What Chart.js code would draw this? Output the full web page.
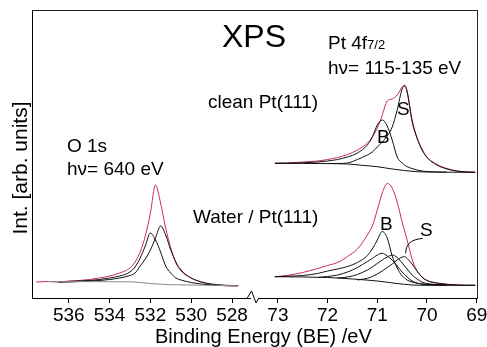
<!DOCTYPE html>
<html><head><meta charset="utf-8">
<script src="https://cdn.jsdelivr.net/npm/chart.js@4/dist/chart.umd.min.js"></script>
<style>
html,body{margin:0;padding:0;background:#fff;}
#wrap{position:relative;width:487px;height:347px;overflow:hidden;font-family:"Liberation Sans",Arial,sans-serif;color:#000;}
canvas{position:absolute;top:0;}
#cL{left:0;}
#cR{left:258px;}
.t{position:absolute;white-space:nowrap;line-height:1;font-size:19px;}
#frame{position:absolute;left:32px;top:10px;width:445px;height:288px;border-top:1px solid #222;border-right:1px solid #222;box-sizing:content-box;}
svg{position:absolute;left:0;top:0;}
</style></head><body>
<div id="wrap">
<div id="frame"></div>
<canvas id="cL" width="251" height="347"></canvas>
<canvas id="cR" width="231" height="347"></canvas>
<svg width="487" height="347"><polyline points="247,298.5 251.5,291 256,303 258.5,298.5" fill="none" stroke="#000" stroke-width="1"/></svg>
<div class="t" style="left:222px;top:20px;font-size:32px;">XPS</div>
<div class="t" style="left:328px;top:33px;">Pt 4f<span style="font-size:13px;">7/2</span></div>
<div class="t" style="left:328px;top:58px;">hν= 115-135 eV</div>
<div class="t" style="left:208px;top:92px;">clean Pt(111)</div>
<div class="t" style="left:67px;top:136px;">O 1s</div>
<div class="t" style="left:67px;top:159px;">hν= 640 eV</div>
<div class="t" style="left:193px;top:207px;">Water / Pt(111)</div>
<div class="t" style="left:377px;top:127px;">B</div>
<div class="t" style="left:397px;top:99px;">S</div>
<div class="t" style="left:380px;top:214px;">B</div>
<div class="t" style="left:420px;top:220px;">S</div>
<div class="t" style="left:155px;top:326px;font-size:20px;">Binding Energy (BE) /eV</div>
<div class="t" style="left:19px;top:168px;font-size:21px;transform:translate(-50%,-50%) rotate(-90deg);">Int. [arb. units]</div>
</div>
<script>
// ---- O 1s region ----
const oTicks = [536, 534, 532, 530, 528];
const oBE = [537.6, 537.0, 536.5, 536.0, 535.5, 535.0, 534.5, 534.0, 533.5, 533.0, 532.75, 532.5, 532.25, 532.0, 531.75, 531.5, 531.25, 531.0, 530.75, 530.5, 530.0, 529.5, 529.0, 528.5, 528.0, 527.7];
const oTotal = [16, 16.5, 16, 17, 17.5, 18.5, 20, 22, 25, 30, 36, 46, 62, 85, 113, 95, 70, 50, 35, 27, 20, 16, 13.5, 12.5, 12, 12];
const oComp1 = [null, null, 16, 16.5, 17, 17.5, 18.5, 20, 22, 26, 31, 40, 52, 65, 58, 46, 32, 25, 20, 18, 15.5, 14, 13, 12.5, 12.3, 12.3];
const oComp2 = [null, null, 16, 16, 16.5, 17, 17.5, 18.5, 20, 22.5, 25, 32, 39, 48, 60, 72, 63, 48, 36, 28, 20, 16, 14, 13, 12.5, 12.5];
const oBgBE = [537.0, 533.0, 532.5, 532.0, 531.5, 531.0, 530.0, 529.0, 528.0, 527.7];
const oBg = [16.4, 16.2, 15.5, 14.5, 13.8, 13.3, 13.0, 12.7, 12.4, 12.3];

// ---- Pt 4f7/2 region ----
const ptTicks = [73, 72, 71, 70, 69];
const ptBE = [73.06, 72.8, 72.5, 72.2, 72.0, 71.8, 71.6, 71.4, 71.2, 71.1, 71.0, 70.9, 70.8, 70.7, 70.6, 70.5, 70.45, 70.4, 70.3, 70.2, 70.1, 70.0, 69.8, 69.6, 69.4, 69.2, 69.03];
// clean Pt(111)
const cleanTotal = [134.7, 135, 136, 137, 138.5, 140.5, 143.5, 148, 155, 161, 170, 183, 197, 199, 203, 211, 213, 207, 176, 160, 149, 141, 133.5, 129.5, 127, 126, 125.7];
const cleanB = [134.7, 134.8, 135.2, 136, 137, 138.5, 141, 145, 153, 161, 173, 178, 172, 158, 141, 135, 133, 131.3, 129.5, 128, 127, 126.5, 126, 125.8, null, null, null];
const cleanS = [null, null, null, null, 134.5, 134.5, 135, 138.5, 143, 146, 151, 156, 162, 171, 188, 209, 212, 206, 178, 160, 148, 140.5, 133, 129, 127, 126, 125.7];
const cleanBgBE = [73.06, 72.0, 71.6, 71.3, 71.0, 70.7, 70.2, 70.0, 69.03];
const cleanBg = [134.7, 134.4, 134, 132.7, 131.3, 129, 126.3, 126, 125.7];
// Water / Pt(111)
const waterTotal = [21.3, 22.7, 25.5, 29.5, 32.5, 35.5, 41.5, 49, 63, 72, 88, 105, 114.5, 110, 96, 76, 67, 58, 39, 27, 21, 17.5, 15, 13.7, 13, 12.7, 12.7];
const waterB = [21.3, 21.8, 22.5, 24.5, 27, 29, 31.5, 35.5, 42.5, 49, 58, 66.5, 60, 42, 30, 22, 20, 18, 16, 14.7, 14, 13.5, 13.2, 13, null, null, null];
const waterB2 = [null, null, null, 20.5, 21.5, 23, 26, 30.5, 36.5, 39.5, 43, 44.7, 42, 38, 32, 26, 23.5, 21, 17, 15, 14, 13.5, 13, 12.8, null, null, null];
const waterS1 = [null, null, null, null, null, 20, 21, 23.5, 28, 31, 34.5, 38, 41, 43, 40.5, 35, 32, 29, 23, 19, 16, 14.5, 13.5, 13, null, null, null];
const waterS2 = [null, null, null, null, null, null, null, 18, 19.7, 21.5, 24, 27, 30.5, 34, 38, 41, 41.3, 39.5, 34, 27, 21, 17.5, 15, 13.7, 13, 12.7, 12.7];
const waterBgBE = [73.06, 72.0, 71.5, 71.0, 70.6, 70.3, 70.0, 69.03];
const waterBg = [21.3, 20.5, 19, 17, 14.5, 13, 12.7, 12.7];

const FONT = '"Liberation Sans", Arial, sans-serif';
const RED = '#c8304e', BLK = '#111', GRY = '#8a8a8a';

function pts(xs, ys) { const a = []; xs.forEach((x, i) => { if (ys[i] !== null) a.push({x: x, y: ys[i]}); }); return a; }
function ds(xs, ys, color, w) {
  return {data: pts(xs, ys), borderColor: color, borderWidth: w || 1, pointRadius: 0, fill: false, cubicInterpolationMode: 'monotone'};
}
function opts(xmin, xmax, ticks, showY, padRight) {
  const y = {min: 0, max: 288, display: showY,
    grid: {display: true, drawOnChartArea: false, drawTicks: false},
    ticks: {display: false},
    border: {display: true, color: '#000', width: 1}
  };
  if (showY) y.afterFit = s => { s.width = 32; };
  return {
    responsive: false, animation: false, devicePixelRatio: 1,
    layout: {padding: {top: 10, right: padRight, bottom: 0, left: 0}},
    plugins: {legend: {display: false}, tooltip: {enabled: false}},
    scales: {
      x: {type: 'linear', reverse: true, min: xmin, max: xmax,
        afterBuildTicks: s => { s.ticks = ticks.map(v => ({value: v})); },
        afterFit: s => { s.height = 49; },
        grid: {display: true, drawOnChartArea: false, drawTicks: true, tickLength: 5, color: '#000', lineWidth: 1},
        border: {display: true, color: '#000', width: 1},
        ticks: {font: {family: FONT, size: 19}, color: '#000', padding: 1, maxRotation: 0, minRotation: 0, autoSkip: false}
      },
      y: y
    }
  };
}

new Chart(document.getElementById('cL'), {
  type: 'line',
  data: {datasets: [
    ds(oBgBE, oBg, GRY),
    ds(oBE, oComp1, BLK),
    ds(oBE, oComp2, BLK),
    ds(oBE, oTotal, RED)
  ]},
  options: opts(527.07, 537.8, oTicks, true, 0)
});

const arrowPlugin = {
  id: 'sArrow',
  afterDatasetsDraw(chart) {
    const x = chart.scales.x, y = chart.scales.y, ctx = chart.ctx;
    ctx.save();
    ctx.strokeStyle = '#000'; ctx.lineWidth = 1;
    ctx.beginPath();
    ctx.moveTo(x.getPixelForValue(70.09), y.getPixelForValue(59.7));
    ctx.bezierCurveTo(x.getPixelForValue(70.36), y.getPixelForValue(58), x.getPixelForValue(70.42), y.getPixelForValue(53), x.getPixelForValue(70.43), y.getPixelForValue(44.7));
    ctx.stroke();
    ctx.restore();
  }
};

new Chart(document.getElementById('cR'), {
  type: 'line',
  data: {datasets: [
    ds(cleanBgBE, cleanBg, BLK),
    ds(ptBE, cleanB, BLK),
    ds(ptBE, cleanS, BLK),
    ds(ptBE, cleanTotal, RED),
    ds(waterBgBE, waterBg, BLK),
    ds(ptBE, waterB, BLK),
    ds(ptBE, waterB2, BLK),
    ds(ptBE, waterS1, BLK),
    ds(ptBE, waterS2, BLK),
    ds(ptBE, waterTotal, RED)
  ]},
  options: opts(69, 73.4, ptTicks, false, 12.3),
  plugins: [arrowPlugin]
});
</script>
</body></html>
